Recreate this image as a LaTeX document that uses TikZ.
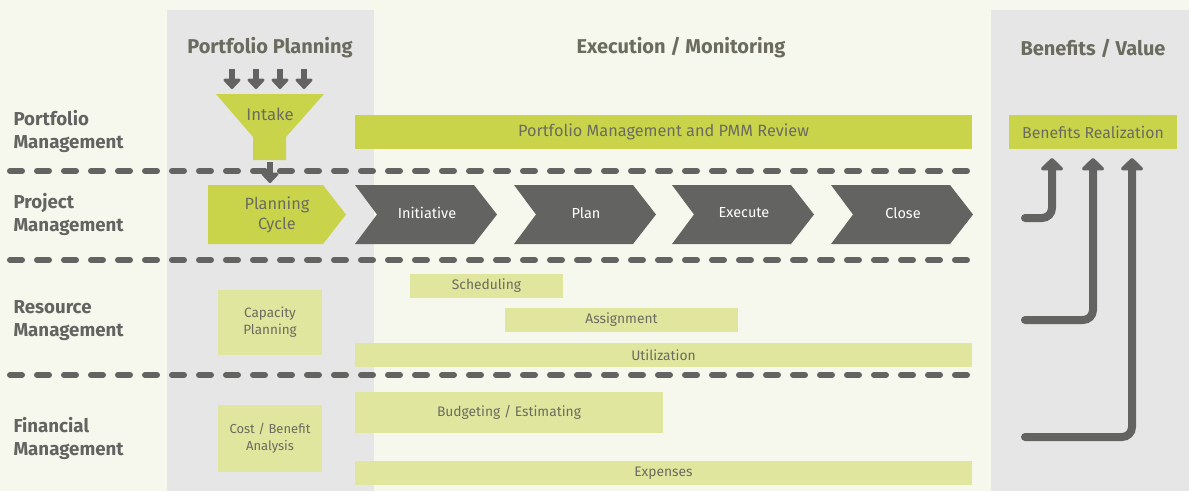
\documentclass[tikz,border=0pt]{standalone}
\usepackage{fontspec}
\setmainfont{Fira Sans}
\usetikzlibrary{arrows.meta}
\definecolor{bgc}{HTML}{F7F8ED}
\definecolor{colc}{HTML}{E6E6E6}
\definecolor{lime}{HTML}{C9D44B}
\definecolor{llime}{HTML}{E0E69E}
\definecolor{dark}{HTML}{636362}
\definecolor{txt}{HTML}{6B6C5F}
\tikzset{
  title/.style={text=txt,font=\fontsize{20}{22}\selectfont\bfseries},
  rowlabel/.style={text=dark,font=\fontsize{18.7}{23}\selectfont\bfseries,align=left,anchor=west},
  limebox/.style={fill=lime,draw=none},
  lightbox/.style={fill=llime,draw=none},
  boxtext/.style={text=txt,font=\fontsize{16.3}{19}\selectfont},
  smalltext/.style={text=txt,font=\fontsize{13.8}{16}\selectfont,align=center},
  chevtext/.style={text=white,font=\fontsize{14.5}{17}\selectfont},
  divider/.style={draw=dark,line width=6pt,line cap=round,dash pattern=on 12pt off 15pt},
  downarrow/.style={draw=dark,line width=6pt,-{Triangle[width=20pt,length=11pt,round]}},
  benarrow/.style={draw=dark,line width=8pt,line cap=round,rounded corners=10pt,-{Triangle[width=26pt,length=13pt,round]}},
}
\begin{document}
\begin{tikzpicture}[x=1pt,y=-1pt]
\useasboundingbox (0,0) rectangle (1189,491);
\fill[bgc] (0,0) rectangle (1189,491);
\fill[colc] (167,10) rectangle (374,491);
\fill[colc] (991,10) rectangle (1189,491);
% titles
\node[title] (t1) at (270,48) {Portfolio Planning};
\node[title] (t2) at (681,48) {Execution / Monitoring};
\node[title] (t3) at (1093,48) {Benefits / Value};
% row labels
\node[rowlabel] (r1) at (10,131) {Portfolio\\Management};
\node[rowlabel] (r2) at (10,214) {Project\\Management};
\node[rowlabel] (r3) at (10,321) {Resource\\Management};
\node[rowlabel] (r4) at (10,438) {Financial\\Management};
% dividers
\coordinate (d1a) at (10,171); \coordinate (d1b) at (968,171);
\coordinate (d2a) at (10,260); \coordinate (d2b) at (968,260);
\coordinate (d3a) at (10,375); \coordinate (d3b) at (968,375);
\draw[divider] (d1a) -- (d1b);
\draw[divider] (d2a) -- (d2b);
\draw[divider] (d3a) -- (d3b);
% intake arrows
\foreach \x [count=\i] in {232,256,280,304}{
  \coordinate (ia\i) at (\x,69); \coordinate (ib\i) at (\x,89);
  \draw[downarrow] (ia\i) -- (ib\i);
}
% funnel
\fill[lime] (216,94) -- (324,94) -- (286,137) -- (286,160) -- (253,160) -- (253,137) -- cycle;
\node[boxtext,font=\fontsize{16.7}{19}\selectfont] (intake) at (270,114) {Intake};
\coordinate (fa) at (270,162); \coordinate (fb) at (270,183);
\draw[downarrow] (fa) -- (fb);
% planning cycle
\fill[lime] (208,185) -- (323,185) -- (346,214.5) -- (323,244) -- (208,244) -- cycle;
\node[boxtext,align=center,font=\fontsize{16.3}{20}\selectfont] (pc) at (277,214.5) {Planning\\Cycle};
% chevrons
\foreach \L/\lab/\nm in {355/Initiative/ch1,514/Plan/ch2,672/Execute/ch3,831/Close/ch4}{
  \fill[dark] (\L,185) -- (\L+119,185) -- (\L+142,214.5) -- (\L+119,244) -- (\L,244) -- (\L+22,214.5) -- cycle;
  \node[chevtext] (\nm) at (\L+72,213) {\lab};
}
% portfolio row
\node[limebox,minimum width=617pt,minimum height=34pt,inner sep=0pt,boxtext] (pmm) at (663.5,132) {Portfolio Management and PMM Review};
\node[limebox,minimum width=168pt,minimum height=34pt,inner sep=0pt,boxtext,font=\fontsize{15.8}{18}\selectfont] (ben) at (1093,132) {Benefits Realization};
% resource row
\node[lightbox,minimum width=153pt,minimum height=24pt,inner sep=0pt,smalltext] (sch) at (486.5,286) {Scheduling};
\node[lightbox,minimum width=233pt,minimum height=24pt,inner sep=0pt,smalltext] (asg) at (621.5,320) {Assignment};
\node[lightbox,minimum width=617pt,minimum height=24pt,inner sep=0pt,smalltext] (utl) at (663.5,355) {Utilization};
\node[lightbox,minimum width=104pt,minimum height=65pt,inner sep=0pt,smalltext,font=\fontsize{13.5}{17}\selectfont] (cap) at (270,322.5) {Capacity\\Planning};
% financial row
\node[lightbox,minimum width=308pt,minimum height=41pt,inner sep=0pt,smalltext] (bud) at (509,412.5) {Budgeting / Estimating};
\node[lightbox,minimum width=617pt,minimum height=24pt,inner sep=0pt,smalltext] (exp) at (663.5,473) {Expenses};
\node[lightbox,minimum width=104pt,minimum height=67pt,inner sep=0pt,smalltext,font=\fontsize{13}{17}\selectfont] (cba) at (270,438.5) {Cost / Benefit\\Analysis};
% benefit arrows
\coordinate (b1s) at (1025,218); \coordinate (b2s) at (1025,320); \coordinate (b3s) at (1025,437);
\draw[benarrow] (b1s) -- (1052,218) -- (1052,158);
\draw[benarrow] (b2s) -- (1093,320) -- (1093,158);
\draw[benarrow] (b3s) -- (1132,437) -- (1132,158);
\end{tikzpicture}
\end{document}
